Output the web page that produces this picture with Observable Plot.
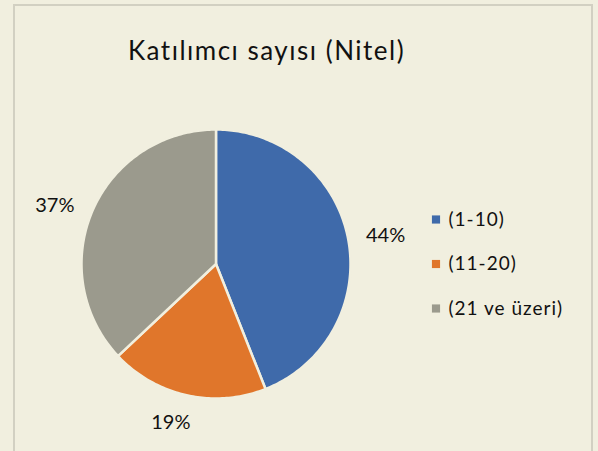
<!DOCTYPE html>
<html>
<head>
<meta charset="utf-8">
<script src="https://cdn.jsdelivr.net/npm/d3@7"></script>
<script src="https://cdn.jsdelivr.net/npm/@observablehq/plot@0.6"></script>
<style>
  html, body { margin: 0; padding: 0; background: #F1EFDF; }
  #wrap { position: relative; width: 598px; height: 451px; overflow: hidden; background: #F1EFDF; }
  #frame { position: absolute; left: 13px; top: 4px; width: 580px; height: 460px; border: 2px solid #D2D0C2; box-sizing: border-box; }
  #chart { position: absolute; left: 0; top: 0; }
</style>
</head>
<body>
<div id="wrap"><div id="frame"></div><div id="chart"></div></div>
<script>
const title = "Katılımcı sayısı (Nitel)";
const categories = ["(1-10)", "(11-20)", "(21 ve üzeri)"];
const values = [44, 19, 37];
const labels = ["44%", "19%", "37%"];
const colors = ["#3F6AAA", "#E0762B", "#9B9A8D"];

// layout (pixels)
const W = 598, H = 451;
const cx = 215.5, cy = 263.5, R = 134.5;

const pie = d3.pie().sort(null).value(d => d)(values);

// build slice polygons from d3.pie angles
const slicePts = [];
pie.forEach((p, i) => {
  const n = Math.max(2, Math.ceil((p.endAngle - p.startAngle) * 60));
  slicePts.push({cat: categories[i], x: cx, y: cy});
  for (let k = 0; k <= n; k++) {
    const a = p.startAngle + (p.endAngle - p.startAngle) * k / n;
    slicePts.push({cat: categories[i], x: cx + R * Math.sin(a), y: cy - R * Math.cos(a)});
  }
  slicePts.push({cat: categories[i], x: cx, y: cy});
});

// label positions: outside the slice along its bisector, with small nudges
const labelNudge = [[11, 1.5], [-10, 1], [-13, 5.5]];
const labelData = pie.map((p, i) => {
  const a = (p.startAngle + p.endAngle) / 2;
  return {label: labels[i],
          x: cx + R * 1.2 * Math.sin(a) + labelNudge[i][0],
          y: cy - R * 1.2 * Math.cos(a) + labelNudge[i][1]};
});

// legend
const legendX = 435.5, legendY0 = 219, legendStep = 44.5;
const legendData = categories.map((c, i) => ({cat: c, x: legendX, y: legendY0 + i * legendStep}));

const chart = Plot.plot({
  width: W,
  height: H,
  margin: 0,
  style: {background: "transparent", fontFamily: "Lato, 'Open Sans', sans-serif"},
  x: {domain: [0, W], range: [0, W], axis: null},
  y: {domain: [0, H], range: [0, H], axis: null},
  color: {domain: categories, range: colors},
  marks: [
    Plot.line(slicePts, {x: "x", y: "y", z: "cat", fill: "cat", stroke: "#F1EFDF", strokeWidth: 2.5, strokeLinejoin: "round", curve: "linear"}),
    Plot.text(labelData, {x: "x", y: "y", text: "label", fontSize: 20, fill: "#111"}),
    Plot.dot(legendData, {x: "x", y: "y", symbol: "square", r: 4.6, fill: "cat", stroke: null}),
    Plot.text(legendData, {x: "x", y: "y", dx: 12.5, text: "cat", textAnchor: "start", fontSize: 19, fill: "#111"}),
    Plot.text([title], {x: () => 266, y: () => 51, text: d => d, fontSize: 26, fill: "#111", lineAnchor: "middle"})
  ]
});
// letter spacing for text (Calibri-like spacing)
const texts = chart.querySelectorAll("g[aria-label='text']");
texts[1].setAttribute("letter-spacing", "1");
texts[2].setAttribute("letter-spacing", "1.5");
document.getElementById("chart").appendChild(chart);
</script>
</body>
</html>
